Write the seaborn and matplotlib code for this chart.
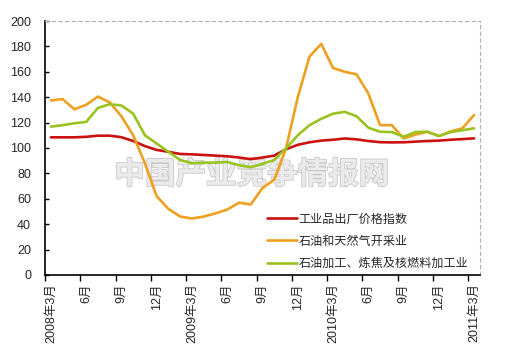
import numpy as np
import pandas as pd
import matplotlib
matplotlib.use("Agg")
import matplotlib.pyplot as plt
import matplotlib.patheffects as pe
import seaborn as sns

# === DATA ===
months = [f"{2008 + (m + 2) // 12}-{(m + 2) % 12 + 1:02d}" for m in range(37)]  # 2008-03 .. 2011-03

ppi = [108.4, 108.4, 108.4, 108.8, 109.7, 109.7, 108.5, 105.5, 101.5, 98.5,
       97.0, 95.3, 95.0, 94.5, 94.0, 93.5, 92.5, 91.2, 92.5, 94.0,
       99.0, 102.5, 104.5, 105.8, 106.5, 107.5, 106.8, 105.5, 104.6, 104.4,
       104.5, 105.0, 105.5, 105.8, 106.5, 107.0, 107.6]
oil_gas = [137.5, 138.5, 130.5, 134.0, 140.5, 136.0, 125.0, 110.0, 88.0, 62.0,
           52.0, 46.0, 44.5, 46.0, 48.5, 51.5, 57.0, 55.5, 68.5, 75.0,
           99.5, 140.0, 172.0, 182.0, 163.0, 160.0, 158.0, 143.0, 118.0, 118.0,
           107.5, 110.5, 112.8, 109.5, 113.0, 115.5, 126.0]
refining = [116.8, 118.0, 119.5, 120.5, 131.5, 134.5, 133.5, 127.0, 110.0, 103.5,
            97.0, 90.6, 88.0, 88.5, 88.5, 89.0, 86.5, 84.8, 87.5, 90.6,
            99.7, 110.0, 118.0, 123.0, 127.0, 128.5, 125.0, 116.0, 112.8, 112.5,
            108.9, 112.5, 112.8, 109.4, 112.5, 114.0, 115.5]

series_names = ["工业品出厂价格指数", "石油和天然气开采业", "石油加工、炼焦及核燃料加工业"]
series_colors = ["#cc1111", "#f0a020", "#99c31f"]

tick_labels = ["2008年3月", "6月", "9月", "12月", "2009年3月", "6月", "9月", "12月",
               "2010年3月", "6月", "9月", "12月", "2011年3月"]

# long-form table for seaborn
df = pd.DataFrame({
    "idx": list(range(37)) * 3,
    "value": ppi + oil_gas + refining,
    "series": [series_names[0]] * 37 + [series_names[1]] * 37 + [series_names[2]] * 37,
})

# === PLOT ===
sns.set_style("white")
plt.rcParams["font.family"] = ["Liberation Sans", "Noto Sans CJK SC"]

fig = plt.figure(figsize=(5.06, 3.52), dpi=100)
ax = fig.add_axes([0.0889, 0.2188, 0.8597, 0.7215])

sns.lineplot(data=df, x="idx", y="value", hue="series", hue_order=series_names,
             palette=series_colors, linewidth=1.9, ax=ax, zorder=3)

# watermark
ax.text(0.475, 0.395, "中国产业竞争情报网", transform=ax.transAxes,
        ha="center", va="center", fontsize=22, fontweight="bold",
        family=["Noto Sans CJK SC"], color="#ebebeb", zorder=1,
        path_effects=[pe.withStroke(linewidth=1.2, foreground="#c8c8c8")])

ax.set_xlim(-0.5, 36.5)
ax.set_ylim(0, 200)
ax.set_yticks(range(0, 201, 20))
ax.set_xlabel("")
ax.set_ylabel("")

# tick marks on category boundaries, labels centred on the category
ax.set_xticks(np.arange(-0.5, 36, 3))
ax.set_xticklabels([])
ax.set_xticks(np.arange(0, 37, 3), minor=True)
ax.set_xticklabels(tick_labels, minor=True, rotation=90, fontsize=9)
ax.tick_params(axis="x", which="major", direction="out", length=4, width=1, color="black", bottom=True)
ax.tick_params(axis="x", which="minor", length=0, pad=6, bottom=True)
ax.tick_params(axis="y", direction="in", length=3, width=1, color="black", labelsize=9, pad=10, left=True)

for side in ["left", "bottom"]:
    ax.spines[side].set_color("black")
    ax.spines[side].set_linewidth(1.2)
for side in ["top", "right"]:
    ax.spines[side].set_color("#b0b0b0")
    ax.spines[side].set_linestyle((0, (3, 3)))
    ax.spines[side].set_linewidth(0.8)

ax.legend(loc="lower left", bbox_to_anchor=(0.51, 0.02), frameon=False, fontsize=8.7,
          handlelength=2.5, handletextpad=0.1, labelspacing=0.85, borderpad=0, borderaxespad=0)

fig.savefig("out.png", dpi=100)
